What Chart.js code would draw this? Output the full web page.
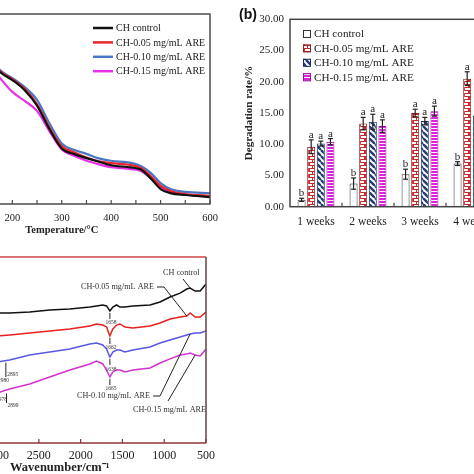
<!DOCTYPE html>
<html>
<head>
<meta charset="utf-8">
<script src="https://cdn.jsdelivr.net/npm/chart.js@4.4.1/dist/chart.umd.min.js"></script>
<style>
  html, body { margin: 0; padding: 0; background: #fff; }
  body { width: 474px; height: 474px; overflow: hidden; position: relative; }
  canvas { position: absolute; }
  #ca { left: -100px; top: 0; }
  #cb { left: 237px; top: 0; }
  #cc { left: -100px; top: 237px; }
</style>
</head>
<body>
<canvas id="ca" width="320" height="240"></canvas>
<canvas id="cb" width="263" height="240"></canvas>
<canvas id="cc" width="320" height="237"></canvas>
<script>
// (a) TGA curves, weight % vs temperature
const tgaTemp = [25, 100, 150, 175, 200, 225, 250, 275, 300, 325, 350, 375, 400, 440, 460, 480, 500, 520, 550, 600];
const tgaControl = [100, 94, 82, 75.6, 72.2, 67.9, 61.4, 51.6, 43.4, 41.0, 39.3, 37.8, 36.3, 35.4, 34.5, 30.8, 26.3, 24.6, 23.8, 22.9];
const tga005 = [100, 94, 82.5, 76, 72.6, 68.5, 62.0, 52.2, 44.3, 41.8, 39.6, 38.0, 37.2, 36.4, 35.2, 31.8, 27.6, 25.5, 24.2, 23.4];
const tga010 = [100, 94.5, 83, 76.4, 73.0, 69.2, 63.8, 54.0, 45.5, 42.8, 41.1, 39.2, 38.2, 37.3, 36.0, 33.1, 28.8, 26.3, 25.1, 24.6];
const tga015 = [100, 93, 80, 73.1, 67.2, 63.4, 59.2, 50.7, 43.0, 40.3, 38.2, 36.7, 35.5, 34.7, 33.9, 30.9, 27.2, 25.1, 24.0, 23.2];

// (b) degradation rate
const weeks = ['1 weeks', '2 weeks', '3 weeks', '4 weeks'];
const rateControl = [1.1, 3.7, 5.2, 6.9];
const rate005 = [9.6, 13.3, 15.0, 20.5];
const rate010 = [10.1, 13.6, 13.7, 14.6];
const rate015 = [10.4, 12.9, 15.3, 16.2];
const errControl = [0.25, 0.9, 0.8, 0.3];
const err005 = [1.1, 1.0, 0.6, 1.1];
const err010 = [0.4, 1.2, 0.6, 0.8];
const err015 = [0.5, 1.0, 0.8, 0.8];
const sigControl = ['b', 'b', 'b', 'b'];
const sigTreated = ['a', 'a', 'a', 'a'];
const rateTicks = [0, 5, 10, 15, 20, 25, 30];

// (c) FTIR spectra (offset transmittance, a.u.)
const wavenumber = [4000, 3500, 3000, 2850, 2610, 2370, 2130, 1890, 1810, 1735, 1690, 1650, 1615, 1570, 1530, 1470, 1375, 1170, 1050, 930, 810, 730, 690, 630, 570, 500];
const irControl = [67.2, 68.3, 69.9, 69.9, 70.4, 71.5, 72.0, 73.1, 73.7, 74.2, 73.7, 71.0, 73.1, 74.2, 73.1, 73.1, 73.7, 74.2, 75.8, 78.5, 80.6, 82.8, 83.3, 81.7, 81.7, 85.5];
const ir005 = [54.3, 55.9, 57.5, 58.1, 59.1, 60.2, 61.3, 62.9, 64.0, 63.4, 62.4, 57.5, 61.3, 63.4, 64.0, 62.4, 61.8, 62.9, 64.5, 66.7, 67.7, 68.3, 69.9, 67.7, 67.7, 70.4];
const ir010 = [38.2, 40.3, 43.5, 44.6, 47.3, 48.9, 50.5, 53.2, 53.8, 52.7, 50.5, 46.2, 48.9, 50.0, 50.0, 48.9, 50.0, 51.6, 53.8, 55.4, 57.0, 58.1, 58.6, 59.1, 59.1, 60.2];
const ir015 = [23.1, 24.7, 26.9, 29.0, 31.7, 35.5, 39.2, 42.5, 44.1, 42.5, 39.2, 35.5, 38.2, 39.2, 39.2, 38.2, 39.2, 40.3, 43.0, 45.2, 47.3, 47.8, 48.4, 47.3, 46.8, 50.5];
const dipLabels = ['1658', '1662', '1638', '1665'];

const seriesNames = ['CH control', 'CH-0.05 mg/mL ARE', 'CH-0.10 mg/mL ARE', 'CH-0.15 mg/mL ARE'];

const serif = '"Liberation Serif", "Times New Roman", Times, serif';
Chart.defaults.font.family = serif;
Chart.defaults.color = '#222';
Chart.defaults.animation = false;
Chart.defaults.responsive = false;
Chart.defaults.events = [];
Chart.defaults.plugins.legend.display = false;
Chart.defaults.plugins.tooltip.enabled = false;

function xy(xs, ys) {
  return xs.map((x, i) => ({ x, y: ys[i] }));
}

function seg(ctx, pts) {
  ctx.beginPath();
  ctx.moveTo(pts[0][0], pts[0][1]);
  for (const p of pts.slice(1)) ctx.lineTo(p[0], p[1]);
  ctx.stroke();
}

// fixed axis height, and no extra side padding for the end labels
function fixHeight(h) {
  return (s) => {
    s.height = h;
    s.paddingLeft = 0;
    s.paddingRight = 0;
  };
}

// ---------- (a) ----------
const tgaColors = ['#111111', '#e8262b', '#4a76c6', '#e832e8'];

const frameA = {
  id: 'frameA',
  afterDraw(chart) {
    const { ctx, chartArea: a, scales: { x } } = chart;
    ctx.save();
    ctx.strokeStyle = '#4d4d4d';
    ctx.lineWidth = 1.5;
    ctx.strokeRect(a.left, a.top, a.right - a.left, a.bottom - a.top);
    ctx.lineWidth = 1.2;
    for (let t = 0; t <= 600; t += 50) {
      const px = x.getPixelForValue(t);
      seg(ctx, [[px, a.bottom], [px, a.bottom - 4]]);
    }
    // legend, page coords
    ctx.translate(100, 0);
    ctx.font = '10px ' + serif;
    ctx.textBaseline = 'middle';
    ctx.fillStyle = '#222';
    seriesNames.forEach((name, i) => {
      const y = 28 + i * 14.4;
      ctx.strokeStyle = tgaColors[i];
      ctx.lineWidth = 2.5;
      seg(ctx, [[93, y], [113, y]]);
      ctx.fillText(name, 116, y + 0.5);
    });
    ctx.restore();
  }
};

new Chart(document.getElementById('ca'), {
  type: 'line',
  data: {
    datasets: [tgaControl, tga005, tga010, tga015].map((ys, i) => ({
      label: seriesNames[i],
      data: xy(tgaTemp, ys),
      borderColor: tgaColors[i],
      borderWidth: 2.2,
      pointRadius: 0,
      cubicInterpolationMode: 'monotone',
    })),
  },
  options: {
    layout: { padding: { left: 13.5, right: 10, top: 14, bottom: 0 } },
    scales: {
      x: {
        type: 'linear', min: 0, max: 600,
        afterFit: fixHeight(36),
        grid: { display: false, drawTicks: false },
        border: { display: false },
        ticks: {
          stepSize: 50, autoSkip: false, maxRotation: 0, padding: 7.5,
          font: { size: 10.5 },
          callback: (v) => (v % 100 === 0 ? String(v) : ''),
        },
        title: { display: true, text: 'Temperature/°C', font: { size: 10.5, weight: 'bold' }, padding: { top: 0, bottom: 3 } },
      },
      y: { display: false, min: 20, max: 100 },
    },
  },
  plugins: [frameA],
});

// ---------- (b) ----------
const ctxB = document.getElementById('cb').getContext('2d');

function makePattern(w, h, draw) {
  const c = document.createElement('canvas');
  c.width = w;
  c.height = h;
  draw(c.getContext('2d'));
  return ctxB.createPattern(c, 'repeat');
}

const brickRed = makePattern(8, 6, (g) => {
  g.fillStyle = '#c8282a';
  g.fillRect(0, 0, 8, 6);
  g.fillStyle = '#fff';
  g.fillRect(1, 1, 6, 2);
  g.fillRect(0, 4, 3, 2);
  g.fillRect(4, 4, 4, 2);
});
const diagBlue = makePattern(6, 6, (g) => {
  g.fillStyle = '#fff';
  g.fillRect(0, 0, 6, 6);
  g.strokeStyle = '#1f3c78';
  g.lineWidth = 2.4;
  for (let k = -1; k <= 1; k++) {
    g.beginPath();
    g.moveTo(k * 6, 0);
    g.lineTo(k * 6 + 6, 6);
    g.stroke();
  }
});
const stripeMagenta = makePattern(4, 3, (g) => {
  g.fillStyle = '#e020e0';
  g.fillRect(0, 0, 4, 3);
  g.fillStyle = '#fff';
  g.fillRect(0, 2, 4, 1);
});

const barFills = ['#ffffff', brickRed, diagBlue, stripeMagenta];
const barBorders = ['#333333', '#8a1c1c', '#1a2c58', '#9a109a'];

const decorB = {
  id: 'decorB',
  afterDatasetsDraw(chart) {
    const { ctx, scales: { y } } = chart;
    ctx.save();
    ctx.strokeStyle = '#222';
    ctx.fillStyle = '#222';
    ctx.lineWidth = 1.2;
    ctx.font = '11px ' + serif;
    ctx.textAlign = 'center';
    ctx.textBaseline = 'alphabetic';
    chart.data.datasets.forEach((ds, i) => {
      chart.getDatasetMeta(i).data.forEach((bar, j) => {
        const v = ds.data[j];
        const e = ds.errors[j];
        const top = y.getPixelForValue(v + e);
        const bot = y.getPixelForValue(v - e);
        seg(ctx, [[bar.x, top], [bar.x, bot]]);
        seg(ctx, [[bar.x - 2.5, top], [bar.x + 2.5, top]]);
        seg(ctx, [[bar.x - 2.5, bot], [bar.x + 2.5, bot]]);
        ctx.fillText(ds.letters[j], bar.x, top - 2);
      });
    });
    ctx.restore();
  },
  afterDraw(chart) {
    const { ctx, chartArea: a } = chart;
    ctx.save();
    ctx.strokeStyle = '#444';
    ctx.lineWidth = 1.5;
    ctx.strokeRect(a.left, a.top, a.right - a.left, a.bottom - a.top);
    const cw = (a.right - a.left) / weeks.length;
    ctx.lineWidth = 1.2;
    for (let i = 1; i < weeks.length; i++) {
      const px = a.left + cw * i;
      seg(ctx, [[px, a.bottom], [px, a.bottom - 4]]);
    }
    // panel letter
    ctx.fillStyle = '#111';
    ctx.font = 'bold 14px "Liberation Sans", Arial, sans-serif';
    ctx.textBaseline = 'alphabetic';
    ctx.fillText('(b)', 2, 19);
    // legend, page coords
    ctx.translate(-237, 0);
    ctx.font = '11.2px ' + serif;
    ctx.textBaseline = 'middle';
    seriesNames.forEach((name, i) => {
      const yc = 34 + i * 14.4;
      ctx.fillStyle = barFills[i];
      ctx.fillRect(303, yc - 4, 8, 8);
      ctx.strokeStyle = barBorders[i];
      ctx.lineWidth = 1;
      ctx.strokeRect(303.5, yc - 3.5, 7, 7);
      ctx.fillStyle = '#222';
      ctx.fillText(name, 314, yc + 0.5);
    });
    ctx.restore();
  }
};

new Chart(ctxB, {
  type: 'bar',
  data: {
    labels: weeks,
    datasets: [
      { data: rateControl, errors: errControl, letters: sigControl },
      { data: rate005, errors: err005, letters: sigTreated },
      { data: rate010, errors: err010, letters: sigTreated },
      { data: rate015, errors: err015, letters: sigTreated },
    ].map((ds, i) => ({
      ...ds,
      label: seriesNames[i],
      backgroundColor: barFills[i],
      borderColor: barBorders[i],
      borderWidth: 1,
      categoryPercentage: 0.74,
      barPercentage: 0.83,
    })),
  },
  options: {
    layout: { padding: { left: 0, right: 2, top: 19.3, bottom: 0 } },
    scales: {
      x: {
        afterFit: fixHeight(33.3),
        grid: { display: false, drawTicks: false },
        border: { display: false },
        ticks: { autoSkip: false, maxRotation: 0, padding: 8, font: { size: 11.5 } },
      },
      y: {
        min: 0, max: 30,
        afterFit: (s) => { s.width = 53; },
        afterBuildTicks: (s) => { s.ticks = rateTicks.map((v) => ({ value: v })); },
        grid: { display: false, drawTicks: false },
        border: { display: false },
        ticks: { padding: 6, font: { size: 11 }, callback: (v) => Number(v).toFixed(2) },
        title: { display: true, text: 'Degradation rate/%', font: { size: 11, weight: 'bold' }, padding: { top: 6, bottom: 0 } },
      },
    },
  },
  plugins: [decorB],
});

// ---------- (c) ----------
const irColors = ['#111111', '#e82020', '#5858e2', '#d232d2'];
const irSeries = [irControl, ir005, ir010, ir015];

const decorC = {
  id: 'decorC',
  afterDraw(chart) {
    const { ctx, chartArea: a, scales: { x, y } } = chart;
    const offX = -100, offY = 237;
    const P = (wn, v) => [x.getPixelForValue(wn) + offX, y.getPixelForValue(v) + offY];
    ctx.save();
    ctx.lineWidth = 1.5;
    ctx.strokeStyle = '#cc4646';
    seg(ctx, [[a.left, a.top], [a.right, a.top]]);
    ctx.strokeStyle = '#8c3434';
    seg(ctx, [[a.left, a.bottom], [a.right, a.bottom]]);
    ctx.strokeStyle = '#5e4444';
    seg(ctx, [[a.right, a.top], [a.right, a.bottom]]);
    ctx.strokeStyle = '#8c3434';
    ctx.lineWidth = 1.2;
    for (let w = 500; w <= 4000; w += 500) {
      const px = x.getPixelForValue(w);
      seg(ctx, [[px, a.bottom], [px, a.bottom - 4]]);
    }

    ctx.translate(-offX, -offY);
    // series labels and leaders
    ctx.fillStyle = '#333';
    ctx.font = '8.2px ' + serif;
    ctx.textBaseline = 'middle';
    ctx.textAlign = 'left';
    ctx.fillText(seriesNames[0], 163, 273);
    ctx.fillText(seriesNames[1], 81, 287);
    ctx.fillText(seriesNames[2], 77, 396);
    ctx.fillText(seriesNames[3], 133, 410);
    ctx.strokeStyle = '#222';
    ctx.lineWidth = 1;
    const at = (arr, wn) => P(wn, arr[wavenumber.indexOf(wn)]);
    seg(ctx, [[183, 279], at(irControl, 690)]);
    seg(ctx, [[157, 287], [164, 287], at(ir005, 730)]);
    seg(ctx, [[153, 396], [160, 396], at(ir010, 690)]);
    seg(ctx, [[168, 401], at(ir015, 630)]);

    // dip markers near 1650
    ctx.font = '5.5px ' + serif;
    ctx.textAlign = 'center';
    irSeries.forEach((arr, i) => {
      const [px, py] = at(arr, 1650);
      seg(ctx, [[px, py + 2], [px, py + 8]]);
      ctx.fillText(dipLabels[i], px + 1, py + 12);
    });
    // C-H stretch markers
    ctx.textAlign = 'left';
    const b1 = P(2895, 44.8);
    seg(ctx, [[b1[0], b1[1] + 3], [b1[0], 377]]);
    ctx.fillText('2895', b1[0] + 1.5, 375);
    ctx.fillText('2980', -2, 381);
    const m1 = P(2899, 28.8);
    seg(ctx, [[m1[0] + 1, m1[1] + 4], [m1[0] + 1, 403]]);
    ctx.fillText('2978', -4, 400);
    ctx.fillText('2899', m1[0] + 2, 406);
    ctx.restore();
  }
};

new Chart(document.getElementById('cc'), {
  type: 'line',
  data: {
    datasets: irSeries.map((ys, i) => ({
      label: seriesNames[i],
      data: xy(wavenumber, ys),
      borderColor: irColors[i],
      borderWidth: 1.5,
      pointRadius: 0,
      tension: 0,
    })),
  },
  options: {
    layout: { padding: { left: 13.5, right: 14, top: 20, bottom: 0 } },
    scales: {
      x: {
        type: 'linear', min: 500, max: 4000, reverse: true,
        afterFit: fixHeight(31),
        grid: { display: false, drawTicks: false },
        border: { display: false },
        ticks: { stepSize: 500, autoSkip: false, maxRotation: 0, padding: 6, font: { size: 12 }, callback: (v) => String(v) },
        title: { display: true, text: 'Wavenumber/cm⁻¹', font: { size: 12.5, weight: 'bold', lineHeight: 1 }, padding: { top: 0, bottom: 0 } },
      },
      y: { display: false, min: 0, max: 100 },
    },
  },
  plugins: [decorC],
});
</script>
</body>
</html>
